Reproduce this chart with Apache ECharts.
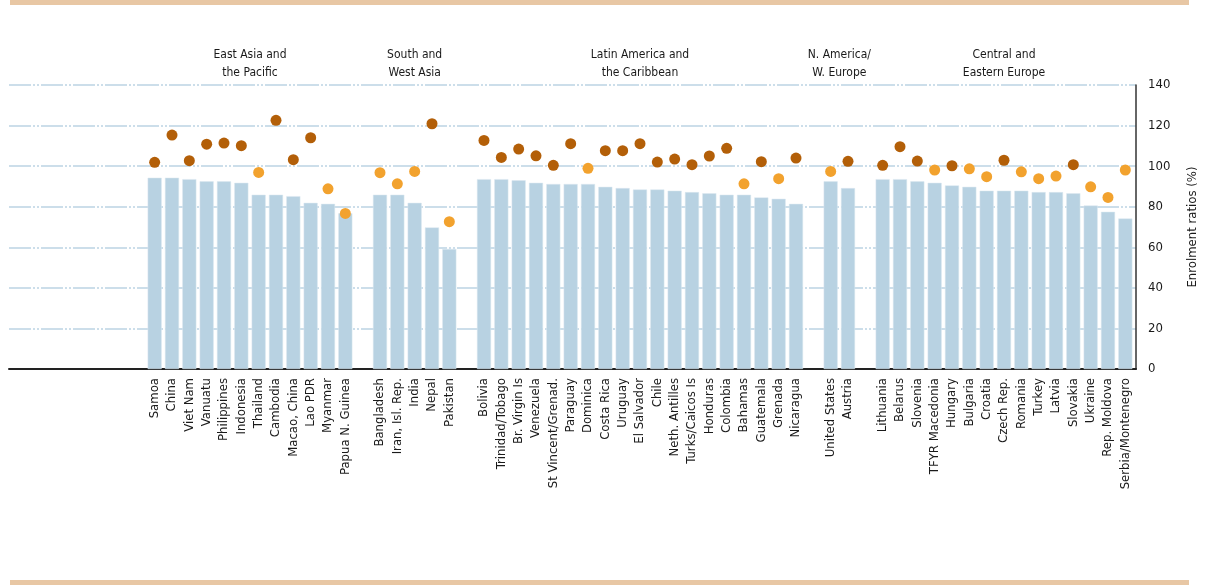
<!DOCTYPE html>
<html>
<head>
<meta charset="utf-8">
<script src="https://cdn.jsdelivr.net/npm/echarts@6/dist/echarts.min.js"></script>
<style>
html,body{margin:0;padding:0;background:#fff;}
#chart{width:1208px;height:585px;}
</style>
</head>
<body>
<div id="chart"></div>
<script>
// ---- DATA ----
const regionTitles = ['East Asia and\nthe Pacific', 'South and\nWest Asia', 'Latin America and\nthe Caribbean', 'N. America/\nW. Europe', 'Central and\nEastern Europe'];

const countriesEAP = ['Samoa', 'China', 'Viet Nam', 'Vanuatu', 'Philippines', 'Indonesia', 'Thailand', 'Cambodia', 'Macao, China', 'Lao PDR', 'Myanmar', 'Papua N. Guinea'];
const barsEAP = [94.3, 94.3, 93.6, 92.5, 92.5, 91.8, 85.9, 85.9, 85.2, 81.9, 81.4, 76.8];
const dotsEAP = [101.9, 115.3, 102.7, 110.8, 111.4, 110.1, 96.9, 122.6, 103.2, 114.0, 88.8, 76.7];

const countriesSWA = ['Bangladesh', 'Iran, Isl. Rep.', 'India', 'Nepal', 'Pakistan'];
const barsSWA = [85.9, 85.9, 81.9, 69.8, 59.2];
const dotsSWA = [96.8, 91.3, 97.4, 120.9, 72.6];

const countriesLAC = ['Bolivia', 'Trinidad/Tobago', 'Br. Virgin Is', 'Venezuela', 'St Vincent/Grenad.', 'Paraguay', 'Dominica', 'Costa Rica', 'Uruguay', 'El Salvador', 'Chile', 'Neth. Antilles', 'Turks/Caicos Is', 'Honduras', 'Colombia', 'Bahamas', 'Guatemala', 'Grenada', 'Nicaragua'];
const barsLAC = [93.6, 93.6, 93.0, 91.8, 91.2, 91.2, 91.2, 89.8, 89.2, 88.5, 88.5, 87.9, 87.2, 86.6, 85.9, 85.9, 84.6, 83.9, 81.4];
const dotsLAC = [112.7, 104.3, 108.4, 105.1, 100.4, 111.1, 98.9, 107.6, 107.6, 111.1, 102.0, 103.5, 100.7, 105.0, 108.8, 91.3, 102.2, 93.8, 104.0];

const countriesNAWE = ['United States', 'Austria'];
const barsNAWE = [92.5, 89.2];
const dotsNAWE = [97.4, 102.4];

const countriesCEE = ['Lithuania', 'Belarus', 'Slovenia', 'TFYR Macedonia', 'Hungary', 'Bulgaria', 'Croatia', 'Czech Rep.', 'Romania', 'Turkey', 'Latvia', 'Slovakia', 'Ukraine', 'Rep. Moldova', 'Serbia/Montenegro'];
const barsCEE = [93.6, 93.6, 92.5, 91.8, 90.5, 89.8, 87.9, 87.9, 87.9, 87.2, 87.2, 86.6, 80.6, 77.5, 74.2];
const dotsCEE = [100.4, 109.6, 102.5, 98.1, 100.2, 98.7, 94.8, 102.9, 97.2, 93.8, 95.1, 100.7, 89.8, 84.6, 98.1];

const yTicks = [0, 20, 40, 60, 80, 100, 120, 140];
const yAxisTitle = 'Enrolment ratios (%)';

// ---- BUILD ----
const groupCountries = [countriesEAP, countriesSWA, countriesLAC, countriesNAWE, countriesCEE];
const groupBars = [barsEAP, barsSWA, barsLAC, barsNAWE, barsCEE];
const groupDots = [dotsEAP, dotsSWA, dotsLAC, dotsNAWE, dotsCEE];

const categories = [], barData = [], dotData = [], groupSpans = [];
groupCountries.forEach((cs, g) => {
  if (g > 0) { categories.push(' '.repeat(g)); barData.push(null); dotData.push(null); }
  const start = categories.length;
  cs.forEach((c, i) => { categories.push(c); barData.push(groupBars[g][i]); dotData.push(groupDots[g][i]); });
  groupSpans.push([start, categories.length - 1]);
});

const FONT = "'Liberation Sans Narrow', 'DejaVu Sans Condensed', 'Liberation Sans', sans-serif";
const DARK = '#b35f08', LIGHT = '#f2a22e';

const chart = echarts.init(document.getElementById('chart'), null, {renderer: 'canvas'});
const TOP = 85, BOTTOM = 216, RIGHT = 72;

chart.setOption({
  animation: false,
  backgroundColor: '#fff',
  grid: [
    {left: 9, right: RIGHT, top: TOP, bottom: BOTTOM},
    {left: 146, right: RIGHT + 2, top: TOP, bottom: BOTTOM}
  ],
  xAxis: [
    {gridIndex: 0, type: 'value', min: 0, max: 1, show: true,
     axisLine: {show: true, onZero: false, lineStyle: {color: '#222', width: 2}},
     axisTick: {show: false}, axisLabel: {show: false}, splitLine: {show: false}},
    {gridIndex: 1, type: 'category', data: categories,
     axisLine: {show: false}, axisTick: {show: false},
     axisLabel: {interval: 0, rotate: 90, margin: 9, color: '#1a1a1a', fontSize: 13, fontFamily: FONT}}
  ],
  yAxis: [
    {gridIndex: 0, type: 'value', position: 'right', min: yTicks[0], max: yTicks[yTicks.length - 1], interval: 20,
     axisLine: {show: true, onZero: false, lineStyle: {color: '#333', width: 1.5}},
     axisTick: {show: false},
     axisLabel: {margin: 12, color: '#1a1a1a', fontSize: 13, fontFamily: FONT},
     splitLine: {show: true, lineStyle: {color: '#bcd3e3', width: 1.5, type: [22, 2, 2, 2, 2, 2]}},
     name: yAxisTitle, nameLocation: 'middle', nameGap: 50, nameRotate: 90,
     nameTextStyle: {color: '#1a1a1a', fontSize: 13, fontFamily: FONT}},
    {gridIndex: 1, type: 'value', min: yTicks[0], max: yTicks[yTicks.length - 1], interval: 20, show: false}
  ],
  series: [
    {type: 'bar', xAxisIndex: 1, yAxisIndex: 1, data: barData, barCategoryGap: '19%',
     itemStyle: {color: '#b8d2e2', borderColor: '#dde9f1', borderWidth: 0.5}, z: 2},
    {type: 'scatter', xAxisIndex: 1, yAxisIndex: 1, data: dotData, symbol: 'circle', symbolSize: 11,
     itemStyle: {color: p => (p.value >= 100 ? DARK : LIGHT), opacity: 1}, z: 3}
  ]
});

// region titles centred over each group, positioned via the axis scale
const graphics = [
  {type: 'rect', shape: {x: 10, y: 0, width: 1179, height: 5}, style: {fill: '#e8c7a4'}, silent: true},
  {type: 'rect', shape: {x: 10, y: 580, width: 1179, height: 5}, style: {fill: '#e8c7a4'}, silent: true}
];
groupSpans.forEach((s, g) => {
  const x0 = chart.convertToPixel({xAxisIndex: 1}, s[0]);
  const x1 = chart.convertToPixel({xAxisIndex: 1}, s[1]);
  graphics.push({type: 'text', x: (x0 + x1) / 2, y: 46,
    style: {text: regionTitles[g], align: 'center', verticalAlign: 'top', fill: '#1a1a1a',
            font: '12px ' + FONT, lineHeight: 18}});
});
chart.setOption({graphic: graphics});
</script>
</body>
</html>
